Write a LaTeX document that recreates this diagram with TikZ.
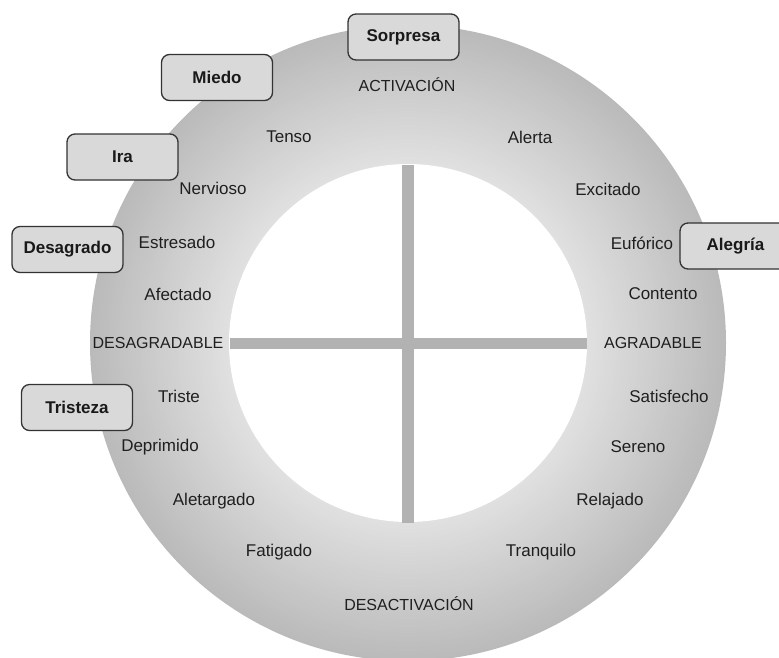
\documentclass[tikz,border=0pt]{standalone}
\usepackage{fontspec}
\setmainfont{Liberation Sans}
\begin{document}
\begin{tikzpicture}[x=1pt,y=-1pt,
  lbl/.style={text=black!88, font=\fontsize{17}{19}\selectfont, inner sep=0pt},
  axislbl/.style={text=black!88, font=\fontsize{16}{18}\selectfont, inner sep=0pt},
  emo/.style={draw=black!80, line width=1.3pt, rounded corners=8pt, fill=black!15,
    minimum width=111pt, minimum height=46pt, inner sep=0pt,
    font=\bfseries\fontsize{17}{19}\selectfont, text=black!90},
  bar/.style={fill=black!30}]
\useasboundingbox (0,0) rectangle (779,657);
\clip (0,0) rectangle (779,657);
\coordinate (O) at (408,343);
% shaded ring: darker at the rim, lighter towards the inside
\foreach \i in {0,...,69} {
  \pgfmathsetmacro\rr{318-2*\i}
  \pgfmathsetmacro\pp{27-15*\i/69}
  \fill[black!\pp] (O) circle[radius=\rr];
}
\fill[white] (O) circle[radius=179];
% axes
\fill[bar] (230,338) rectangle (587,349);
\fill[bar] (402,165) rectangle (414,523);
% axis labels
\node[axislbl] (act) at (407,85) {ACTIVACIÓN};
\node[axislbl] (desact) at (409,604) {DESACTIVACIÓN};
\node[axislbl] (desag) at (158,343) {DESAGRADABLE};
\node[axislbl] (agr) at (653,343) {AGRADABLE};
% states
\node[lbl] (tenso) at (289,137) {Tenso};
\node[lbl] (alerta) at (530,137) {Alerta};
\node[lbl] (nervioso) at (213,188) {Nervioso};
\node[lbl] (excitado) at (608,189) {Excitado};
\node[lbl] (estresado) at (177,242) {Estresado};
\node[lbl] (euforico) at (642,243) {Eufórico};
\node[lbl] (afectado) at (178,294) {Afectado};
\node[lbl] (contento) at (663,294) {Contento};
\node[lbl] (triste) at (179,396) {Triste};
\node[lbl] (satisfecho) at (669,396) {Satisfecho};
\node[lbl] (deprimido) at (160,447) {Deprimido};
\node[lbl] (sereno) at (638,447) {Sereno};
\node[lbl] (aletargado) at (214,501) {Aletargado};
\node[lbl] (relajado) at (610,501) {Relajado};
\node[lbl] (fatigado) at (279,552) {Fatigado};
\node[lbl] (tranquilo) at (541,552) {Tranquilo};
% emotions
\node[emo] (sorpresa) at (403.5,37) {Sorpresa};
\node[emo] (miedo) at (217,77.5) {Miedo};
\node[emo] (ira) at (122.5,157) {Ira};
\node[emo] (desagrado) at (67.5,249.5) {Desagrado};
\node[emo] (tristeza) at (77,407.5) {Tristeza};
\node[emo] (alegria) at (735.5,246) {Alegría};
\end{tikzpicture}
\end{document}
